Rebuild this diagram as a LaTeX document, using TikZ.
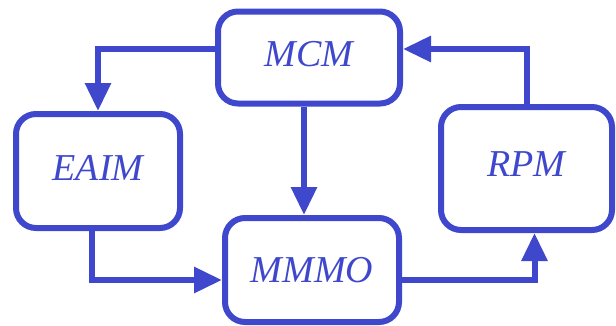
\documentclass[tikz,border=0pt]{standalone}
\usepackage{fontspec}
\setmainfont{Liberation Serif}
\usetikzlibrary{arrows.meta}
\definecolor{paintblue}{HTML}{3F48CC}
\tikzset{
  box/.style={draw=paintblue, line width=6pt, rounded corners=20pt, text=paintblue,
    font=\fontsize{38}{44}\selectfont\itshape, inner sep=0pt},
  arr/.style={draw=paintblue, line width=6pt, -{Triangle[length=28pt,width=25pt]}}
}
\begin{document}
\begin{tikzpicture}[x=1pt,y=-1pt]
\useasboundingbox (0,0) rectangle (616,325);
% boxes
\node[box, minimum width=182pt, minimum height=92pt] (MCM) at (309,57.5) {\raisebox{7pt}{MCM}\hspace{16pt}};
\node[box, minimum width=164pt, minimum height=114pt] (EAIM) at (98,171) {\raisebox{6pt}{EAIM}};
\node[box, minimum width=174pt, minimum height=104pt] (MMMO) at (312,270) {\raisebox{-2.5pt}{MMMO}\hspace{4pt}};
\node[box, minimum width=171pt, minimum height=123pt] (RPM) at (526.5,168.5) {\raisebox{8pt}{RPM}\hspace{15pt}};
% connectors
\draw[arr] ([yshift=8.5pt]MCM.west) -| (EAIM.north);
\draw[arr] ([xshift=-5pt]MCM.south) -- ([xshift=-8pt]MMMO.north);
\draw[arr] ([xshift=-6pt]EAIM.south) |- ([yshift=-10pt]MMMO.west);
\draw[arr] ([yshift=-10pt]MMMO.east) -| ([xshift=8pt]RPM.south);
\draw[arr] (RPM.north) |- ([yshift=8.5pt]MCM.east);
\end{tikzpicture}
\end{document}
